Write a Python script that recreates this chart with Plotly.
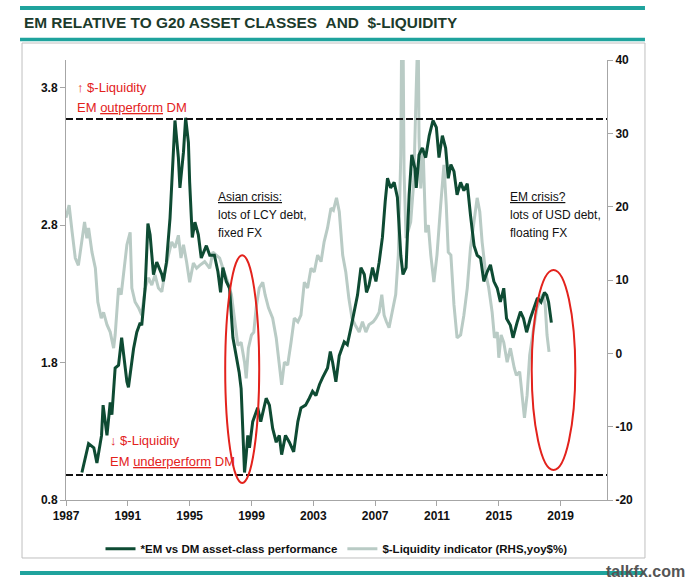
import plotly.graph_objects as go

# ---------------- data ----------------
em_years = [1988.03, 1988.46, 1988.8, 1989.0, 1989.3, 1989.4, 1989.65, 1989.86, 1989.97, 1990.18,
            1990.4, 1990.6, 1990.94, 1991.04, 1991.37, 1991.58, 1991.8, 1991.9, 1992.12, 1992.3,
            1992.44, 1992.66, 1992.87, 1993.02, 1993.2, 1993.3, 1993.5, 1993.73, 1993.95, 1994.05,
            1994.27, 1994.37, 1994.6, 1994.74, 1994.92, 1995.0, 1995.17, 1995.34, 1995.56, 1995.75,
            1996.08, 1996.3, 1996.6, 1996.83, 1997.0, 1997.15, 1997.37, 1997.58, 1997.8, 1998.0,
            1998.2, 1998.33, 1998.44, 1998.55, 1998.66, 1998.76, 1998.87, 1999.08, 1999.4, 1999.6,
            1999.95, 2000.16, 2000.37, 2000.6, 2000.8, 2000.95, 2001.2, 2001.45, 2001.73, 2002.0,
            2002.2, 2002.5, 2002.74, 2002.95, 2003.17, 2003.4, 2003.6, 2003.92, 2004.1, 2004.25,
            2004.46, 2004.68, 2005.0, 2005.2, 2005.43, 2005.65, 2005.86, 2006.08, 2006.3, 2006.44,
            2006.6, 2006.83, 2007.05, 2007.26, 2007.47, 2007.65, 2007.8, 2008.0, 2008.23, 2008.44,
            2008.66, 2008.8, 2009.0, 2009.2, 2009.37, 2009.58, 2009.66, 2009.84, 2010.05, 2010.27,
            2010.5, 2010.74, 2010.96, 2011.13, 2011.35, 2011.56, 2011.73, 2011.9, 2012.1, 2012.3,
            2012.53, 2012.74, 2012.96, 2013.17, 2013.4, 2013.6, 2013.82, 2014.03, 2014.25, 2014.46,
            2014.68, 2014.9, 2015.1, 2015.32, 2015.5, 2015.75, 2015.92, 2016.18, 2016.4, 2016.6,
            2016.8, 2017.04, 2017.3, 2017.5, 2017.73, 2017.95, 2018.1, 2018.22, 2018.33, 2018.4]
em_values = [1.00, 1.21, 1.18, 1.07, 1.27, 1.49, 1.27, 1.51, 1.42, 1.76,
             1.78, 1.98, 1.66, 1.62, 1.90, 2.02, 2.09, 2.07, 2.34, 2.81,
             2.73, 2.44, 2.53, 2.49, 2.44, 2.39, 2.53, 2.85, 3.31, 3.56,
             3.29, 3.07, 3.33, 3.58, 3.40, 3.11, 2.71, 2.82, 2.73, 2.56,
             2.65, 2.58, 2.58, 2.46, 2.31, 2.49, 2.39, 2.34, 1.98, 1.85,
             1.73, 1.61, 1.29, 1.00, 1.13, 1.27, 1.18, 1.37, 1.47, 1.37,
             1.54, 1.49, 1.32, 1.22, 1.27, 1.13, 1.27, 1.22, 1.15, 1.37,
             1.47, 1.49, 1.54, 1.59, 1.56, 1.64, 1.69, 1.76, 1.88, 1.80,
             1.66, 1.85, 1.95, 1.93, 2.05, 2.17, 2.29, 2.49, 2.44, 2.31,
             2.36, 2.49, 2.39, 2.53, 2.71, 2.97, 3.14, 3.07, 3.11, 3.00,
             2.58, 2.44, 2.49, 3.02, 3.31, 3.21, 3.07, 3.31, 3.36, 3.29,
             3.45, 3.56, 3.51, 3.29, 3.45, 3.36, 3.14, 3.24, 3.19, 3.02,
             3.11, 3.05, 3.10, 2.87, 2.65, 2.58, 2.56, 2.39, 2.46, 2.51,
             2.39, 2.34, 2.24, 2.34, 2.12, 2.07, 1.98, 2.09, 2.17, 2.12,
             2.02, 2.12, 2.20, 2.27, 2.24, 2.31, 2.29, 2.24, 2.15, 2.09]

liq_years = [1987.0, 1987.2, 1987.4, 1987.6, 1987.8, 1988.03, 1988.2, 1988.35, 1988.46, 1988.68,
             1988.9, 1989.06, 1989.28, 1989.43, 1989.65, 1989.86, 1990.08, 1990.18, 1990.4, 1990.57,
             1990.72, 1990.94, 1991.15, 1991.26, 1991.47, 1991.7, 1991.9, 1992.12, 1992.34, 1992.55,
             1992.76, 1992.98, 1993.2, 1993.4, 1993.63, 1993.84, 1994.05, 1994.27, 1994.44, 1994.6,
             1994.8, 1995.0, 1995.24, 1995.45, 1995.65, 1995.97, 1996.3, 1996.5, 1996.72, 1996.94,
             1997.15, 1997.47, 1997.7, 1997.9, 1998.12, 1998.33, 1998.55, 1998.66, 1998.8, 1999.0,
             1999.15, 1999.3, 1999.5, 1999.73, 1999.88, 2000.1, 2000.37, 2000.6, 2000.8, 2000.95,
             2001.13, 2001.34, 2001.56, 2001.77, 2002.0, 2002.2, 2002.42, 2002.63, 2002.85, 2003.06,
             2003.28, 2003.5, 2003.7, 2003.92, 2004.14, 2004.3, 2004.5, 2004.68, 2004.9, 2005.1,
             2005.3, 2005.5, 2005.7, 2005.97, 2006.18, 2006.4, 2006.6, 2006.87, 2007.05, 2007.26,
             2007.43, 2007.58, 2007.73, 2007.9, 2008.1, 2008.33, 2008.5, 2008.66, 2008.72, 2008.8,
             2008.87, 2009.0, 2009.3, 2009.5, 2009.66, 2009.72, 2009.78, 2009.84, 2009.95, 2010.1,
             2010.27, 2010.44, 2010.6, 2010.8, 2011.0, 2011.24, 2011.45, 2011.6, 2011.73, 2011.9,
             2012.1, 2012.3, 2012.53, 2012.74, 2012.96, 2013.17, 2013.4, 2013.6, 2013.77, 2013.92,
             2014.14, 2014.35, 2014.57, 2014.72, 2014.9, 2015.0, 2015.15, 2015.32, 2015.54, 2015.75,
             2016.0, 2016.14, 2016.35, 2016.5, 2016.66, 2016.83, 2017.0, 2017.26, 2017.47, 2017.7,
             2017.86, 2018.0, 2018.12, 2018.25]
liq_values = [18.5, 20.2, 16.5, 13.0, 12.0, 15.2, 17.9, 15.7, 17.1, 13.8,
              11.6, 7.0, 4.8, 5.6, 3.9, 2.9, 0.7, 2.5, 8.9, 8.0,
              11.1, 14.8, 16.5, 8.9, 7.0, 6.2, 5.2, 8.9, 10.3, 9.3,
              10.7, 8.9, 8.4, 11.1, 13.4, 15.2, 14.4, 16.1, 13.0, 14.8,
              12.5, 9.7, 12.3, 11.6, 12.0, 12.5, 11.6, 13.8, 13.4, 13.0,
              11.6, 9.7, 8.0, 4.3, 1.1, 1.5, -1.2, -3.4, 0.7, 2.5,
              2.9, 6.2, 8.9, 9.7, 8.0, 6.2, 4.8, 2.1, -1.2, -4.3,
              -1.2, -1.6, 1.5, 4.8, 4.3, 5.2, 9.7, 8.9, 11.6, 11.1,
              13.4, 12.5, 15.2, 17.1, 19.8, 19.5, 21.2, 19.3, 13.4, 11.1,
              7.5, 4.8, 3.9, 2.9, 4.3, 2.9, 3.9, 4.3, 4.8, 5.6,
              8.0, 5.2, 4.3, 3.5, 5.6, 8.0, 13.4, 27.0, 45.0, 45.0,
              24.7, 15.7, 17.9, 23.4, 36.2, 45.0, 45.0, 29.4, 22.5, 28.0,
              16.5, 17.5, 13.4, 9.7, 13.4, 20.2, 25.7, 20.2, 13.8, 13.4,
              6.6, 2.1, 2.5, 5.2, 8.9, 14.4, 17.9, 21.2, 19.3, 15.2,
              11.1, 8.9, 5.6, 2.1, 2.9, -0.6, 2.5, 1.5, -1.2, 0.7,
              -2.0, -3.0, -2.5, -5.3, -8.8, -5.7, -0.2, 3.5, 6.2, 7.5,
              8.0, 6.6, 2.5, 0.2]

x_ticks = [1987, 1991, 1995, 1999, 2003, 2007, 2011, 2015, 2019]
left_ticks = [0.8, 1.8, 2.8, 3.8]
right_ticks = [-20, -10, 0, 10, 20, 30, 40]

upper_band = 3.571   # EM outperform threshold (LHS)
lower_band = 0.982   # EM underperform threshold (LHS)

title_text = "EM RELATIVE TO G20 ASSET CLASSES&nbsp;&nbsp;AND&nbsp;&nbsp;$-LIQUIDITY"
em_name = "<b>*EM vs DM asset-class performance</b>"
liq_name = "<b>$-Liquidity indicator (RHS,yoy$%)</b>"
asia_lines = ["<u>Asian crisis:</u>", "lots of LCY debt,", "fixed FX"]
em_lines = ["<u>EM crisis?</u>", "lots of USD debt,", "floating FX"]

# ---------------- styles ----------------
FONT = "Liberation Sans, Arial, sans-serif"
EM_COLOR = "#0e4b33"
LIQ_COLOR = "#b9cbc5"
RED = "#e3221c"
TEAL = "#1fa39d"
AXIS_GREY = "#a6a6a6"

fig = go.Figure()
fig.add_trace(go.Scatter(x=em_years, y=em_values, name=em_name, mode="lines",
                         line=dict(color=EM_COLOR, width=3), yaxis="y2"))
fig.add_trace(go.Scatter(x=liq_years, y=liq_values, name=liq_name, mode="lines",
                         line=dict(color=LIQ_COLOR, width=3), yaxis="y"))

tickfont = dict(family=FONT, size=12, color="#111111", weight="bold")

fig.update_layout(
    width=699, height=583,
    margin=dict(l=66, r=92, t=60, b=83),
    paper_bgcolor="white", plot_bgcolor="white",
    showlegend=True,
    legend=dict(orientation="h", x=0.5, xanchor="center", y=-0.111, yanchor="middle",
                font=dict(family=FONT, size=11.5, color="#111111"),
                itemwidth=30, tracegroupgap=0, bgcolor="rgba(0,0,0,0)"),
    xaxis=dict(range=[1987, 2022], tickvals=x_ticks, ticktext=[str(v) for v in x_ticks],
               showgrid=False, zeroline=False, showline=True, linecolor=AXIS_GREY, linewidth=1,
               ticks="outside", ticklen=5, tickcolor=AXIS_GREY, tickfont=tickfont),
    yaxis=dict(range=[-20, 40], tickvals=right_ticks, ticktext=[str(v) for v in right_ticks],
               side="right",
               showgrid=False, zeroline=False, showline=True, linecolor=AXIS_GREY, linewidth=1,
               ticks="outside", ticklen=5, tickcolor=AXIS_GREY, tickfont=tickfont),
    yaxis2=dict(range=[0.8, 4.0], tickvals=left_ticks, ticktext=["0.8", "1.8", "2.8", "3.8"],
                side="left", overlaying="y",
                showgrid=False, zeroline=False, showline=True, linecolor=AXIS_GREY, linewidth=1,
                ticks="outside", ticklen=5, tickcolor=AXIS_GREY, tickfont=tickfont),
)

shapes = []
# outer frame
shapes.append(dict(type="rect", xref="paper", yref="paper", x0=-0.0813, x1=1.0702,
                   y0=-0.1318, y1=1.0386, line=dict(color="#bfbfbf", width=1), layer="below"))
# teal bars
shapes.append(dict(type="line", xref="paper", yref="paper", x0=-0.085, x1=1.0702,
                   y0=1.118, y1=1.118, line=dict(color=TEAL, width=4)))
shapes.append(dict(type="line", xref="paper", yref="paper", x0=-0.085, x1=1.0702,
                   y0=1.0466, y1=1.0466, line=dict(color=TEAL, width=3.5)))
shapes.append(dict(type="line", xref="paper", yref="paper", x0=-0.085, x1=1.0702,
                   y0=-0.1659, y1=-0.1659, line=dict(color=TEAL, width=4)))
# dashed threshold lines
for yv in (upper_band, lower_band):
    shapes.append(dict(type="line", xref="paper", yref="y2", x0=0, x1=1, y0=yv, y1=yv,
                       line=dict(color="#111111", width=2, dash="7px,3px")))
# red ellipses
shapes.append(dict(type="circle", xref="x", yref="y2", x0=1997.3, x1=1999.5, y0=0.924, y1=2.58,
                   line=dict(color=RED, width=2)))
shapes.append(dict(type="circle", xref="x", yref="y2", x0=2017.13, x1=2019.95, y0=1.018, y1=2.473,
                   line=dict(color=RED, width=2)))
fig.update_layout(shapes=shapes)

ann = []
ann.append(dict(text="<b>" + title_text + "</b>", xref="paper", yref="paper", x=-0.0813, y=1.086,
                xanchor="left", yanchor="middle", showarrow=False,
                font=dict(family=FONT, size=15.4, color="#1c3b2c")))
red_font = dict(family=FONT, size=13, color=RED)
ann.append(dict(text="<b>↑</b> $-Liquidity", xref="paper", yref="paper", x=0.0166, y=0.9386,
                xanchor="left", yanchor="middle", showarrow=False, font=red_font))
ann.append(dict(text="EM <u>outperform</u> DM", xref="paper", yref="paper", x=0.0166, y=0.891,
                xanchor="left", yanchor="middle", showarrow=False, font=red_font))
ann.append(dict(text="<b>↓</b> $-Liquidity", xref="paper", yref="paper", x=0.0776, y=0.136,
                xanchor="left", yanchor="middle", showarrow=False, font=red_font))
ann.append(dict(text="EM <u>underperform</u> DM", xref="paper", yref="paper", x=0.0776, y=0.0864,
                xanchor="left", yanchor="middle", showarrow=False, font=red_font))
blk_font = dict(family=FONT, size=12, color="#111111")
line_y = [197, 215, 233]
for lines, px in ((asia_lines, 216), (em_lines, 508)):
    for txt, py in zip(lines, line_y):
        ann.append(dict(text=txt, xref="paper", yref="paper",
                        x=(px - 66) / 541, y=(500 - py) / 440, xanchor="left", yanchor="middle",
                        align="left", showarrow=False, font=blk_font))
ann.append(dict(text="<b>talkfx.com</b>", xref="paper", yref="paper", x=1.072, y=-0.1636,
                xanchor="center", yanchor="middle", showarrow=False,
                font=dict(family=FONT, size=16, color="#555555")))
fig.update_layout(annotations=ann)

fig.write_html("out.html", config={"displayModeBar": False},
               post_script="document.body.style.margin='0px';")
